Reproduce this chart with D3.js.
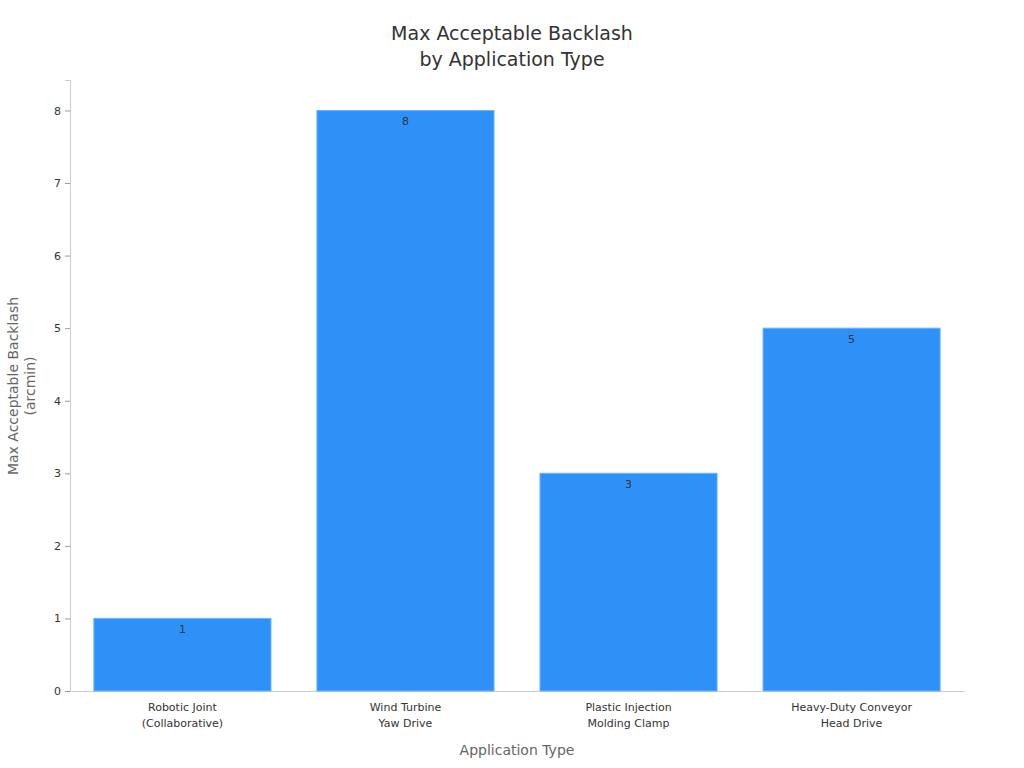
<!DOCTYPE html>
<html><head><meta charset="utf-8">
<script src="https://cdn.jsdelivr.net/npm/d3@7"></script>
<style>body{margin:0;background:#fff;font-family:"DejaVu Sans",sans-serif;}</style>
</head><body><svg id="chart"></svg>
<script>
var categories = [["Robotic Joint", "(Collaborative)"], ["Wind Turbine", "Yaw Drive"], ["Plastic Injection", "Molding Clamp"], ["Heavy-Duty Conveyor", "Head Drive"]];
var values = [1, 8, 3, 5];
var yTicks = [0, 1, 2, 3, 4, 5, 6, 7, 8];

var width = 1024, height = 768;
var m = {left: 70, right: 60, top: 80, bottom: 77};
var svg = d3.select("#chart").attr("width", width).attr("height", height);

var x = d3.scaleBand()
          .domain(d3.range(values.length))
          .range([m.left, width - m.right])
          .paddingInner(0.206).paddingOuter(0.107);
var y = d3.scaleLinear().domain([0, 8.42]).range([height - m.bottom, m.top]);

svg.append("text").attr("x", 512).attr("y", 40).attr("text-anchor", "middle")
   .attr("font-size", 19).attr("fill", "#333").text("Max Acceptable Backlash");
svg.append("text").attr("x", 512).attr("y", 66).attr("text-anchor", "middle")
   .attr("font-size", 19).attr("fill", "#333").text("by Application Type");

var yAxis = svg.append("g").attr("transform", "translate(" + m.left + ",0)")
   .call(d3.axisLeft(y).tickValues(yTicks).tickSize(5).tickPadding(4));
yAxis.select(".domain").attr("stroke", "#ccc");
yAxis.selectAll(".tick line").attr("stroke", "#999");
yAxis.selectAll("text").attr("font-size", 11).attr("fill", "#333").attr("font-family", "DejaVu Sans");

var xAxis = svg.append("g").attr("transform", "translate(0," + (height - m.bottom) + ")")
   .call(d3.axisBottom(x).tickSize(0).tickFormat(""));
xAxis.select(".domain").attr("stroke", "#ccc");
xAxis.selectAll(".tick").each(function(d) {
  var t = d3.select(this).append("text").attr("fill", "#333").attr("font-size", 11)
    .attr("font-family", "DejaVu Sans").attr("text-anchor", "middle");
  t.append("tspan").attr("x", 0).attr("y", 20).text(categories[d][0]);
  t.append("tspan").attr("x", 0).attr("y", 36).text(categories[d][1]);
});

svg.selectAll("rect.bar").data(values).enter().append("rect").attr("class", "bar")
   .attr("x", function(d, i) { return x(i); })
   .attr("y", function(d) { return y(d); })
   .attr("width", x.bandwidth())
   .attr("height", function(d) { return y(0) - y(d); })
   .attr("fill", "#2e91f8").attr("stroke", "#6fb3fa").attr("stroke-width", 1);

svg.selectAll("text.val").data(values).enter().append("text").attr("class", "val")
   .attr("x", function(d, i) { return x(i) + x.bandwidth() / 2; })
   .attr("y", function(d) { return y(d) + 15; })
   .attr("text-anchor", "middle").attr("font-size", 11).attr("fill", "#333")
   .text(function(d) { return d; });

svg.append("text").attr("x", 517).attr("y", 755).attr("text-anchor", "middle")
   .attr("font-size", 14).attr("fill", "#666").text("Application Type");
var yl = svg.append("text").attr("transform", "translate(18,386) rotate(-90)")
   .attr("text-anchor", "middle").attr("font-size", 14).attr("fill", "#666");
yl.append("tspan").attr("x", 0).attr("y", 0).text("Max Acceptable Backlash");
yl.append("tspan").attr("x", 0).attr("y", 17).text("(arcmin)");
</script></body></html>
